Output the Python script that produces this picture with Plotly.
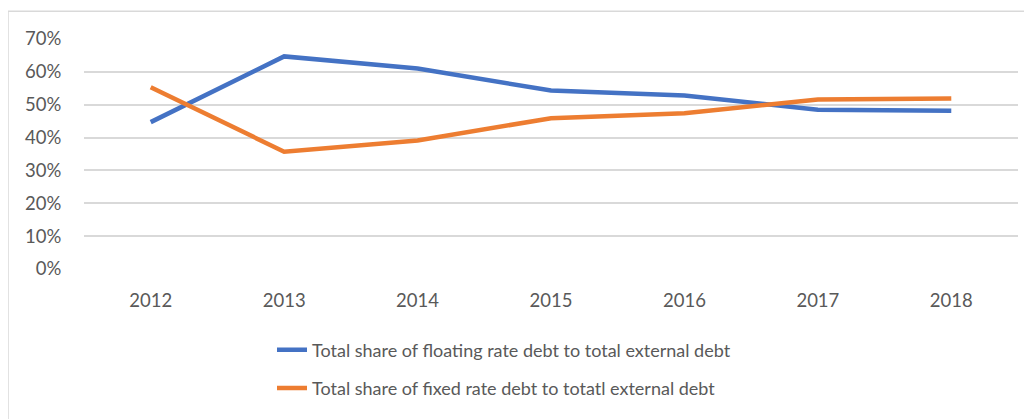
import plotly.graph_objects as go

years = ["2012", "2013", "2014", "2015", "2016", "2017", "2018"]
floating_share = [0.447, 0.647, 0.610, 0.543, 0.528, 0.485, 0.482]
fixed_share = [0.553, 0.357, 0.391, 0.459, 0.474, 0.516, 0.519]
series_names = [
    "Total share of floating rate debt to total external debt",
    "Total share of fixed rate debt to totatl external debt",
]
y_ticks = [0, 0.1, 0.2, 0.3, 0.4, 0.5, 0.6, 0.7]

# page body has an 8px margin, so work in screen coords shifted by 8
OFF = 8
W, H = 1032 - OFF, 419 - OFF
L, R, T, B = 84 - OFF, 1018 - OFF, 39 - OFF, 271 - OFF
pw, ph = R - L, B - T

def px_x(p):
    return (p - OFF - L) / pw

def px_y(p):
    return (B - (p - OFF)) / ph

fig = go.Figure()
fig.add_trace(go.Scatter(x=years, y=floating_share, mode="lines", name=series_names[0],
                         line=dict(color="#4472C4", width=4.5), legendgroup="a"))
fig.add_trace(go.Scatter(x=years, y=fixed_share, mode="lines", name=series_names[1],
                         line=dict(color="#ED7D31", width=4.5), legendgroup="b"))

font_family = "Lato, Open Sans, sans-serif"
fig.update_layout(
    width=W, height=H,
    margin=dict(l=L, r=W - R, t=T, b=H - B),
    paper_bgcolor="white", plot_bgcolor="white",
    font=dict(family=font_family, color="#595959", size=18),
    showlegend=True,
    hovermode=False,
    legend=dict(
        x=px_x(272), y=px_y(334), xanchor="left", yanchor="top",
        font=dict(size=18, color="#595959"),
        tracegroupgap=12, bgcolor="rgba(0,0,0,0)",
    ),
    xaxis=dict(
        type="category", range=[-0.5, 6.5], showgrid=False, zeroline=False,
        showline=False, ticks="outside", ticklen=15, tickcolor="rgba(0,0,0,0)",
        tickfont=dict(size=18.5, color="#595959"),
    ),
    yaxis=dict(
        range=[0, 0.7], tickvals=y_ticks, tickformat=".0%",
        showgrid=True, gridcolor="#D9D9D9", gridwidth=1.5, zeroline=False,
        showline=False, ticks="outside", ticklen=18, tickcolor="rgba(0,0,0,0)",
        tickfont=dict(size=18.5, color="#595959"),
    ),
    shapes=[
        dict(type="line", xref="paper", yref="paper", x0=px_x(8), x1=px_x(8),
             y0=px_y(11), y1=px_y(430), line=dict(color="#D9D9D9", width=1.5)),
        dict(type="line", xref="paper", yref="paper", x0=px_x(8), x1=px_x(1040),
             y0=px_y(11), y1=px_y(11), line=dict(color="#D9D9D9", width=1.5)),
    ],
)

fig.write_html("out.html")
